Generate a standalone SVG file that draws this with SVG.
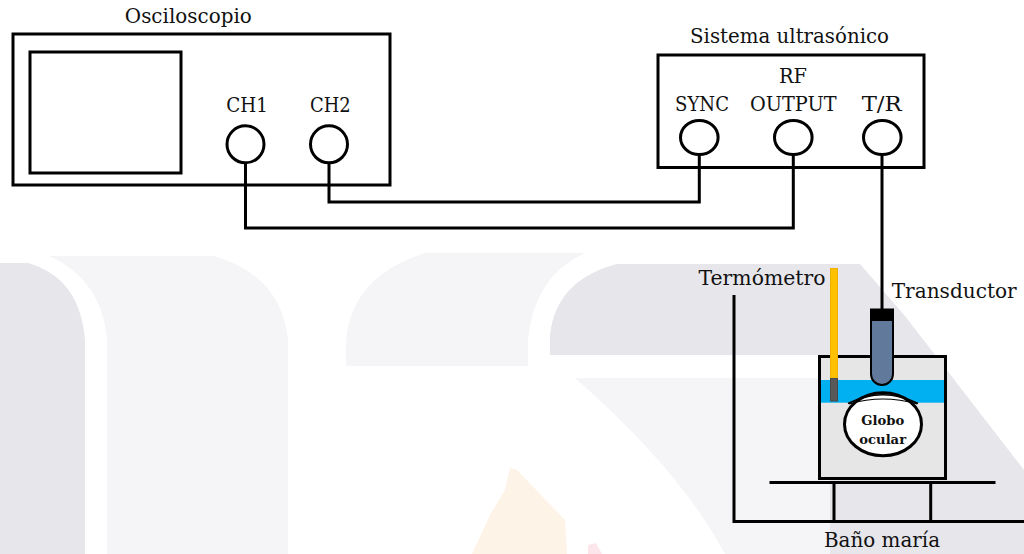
<svg xmlns="http://www.w3.org/2000/svg" width="1024" height="554" viewBox="0 0 1024 554">
  <style>
    .lbl { font-family: "DejaVu Serif", "Liberation Serif", serif; font-size: 20px; fill: #111; text-anchor: middle; }
    .bold { font-family: "DejaVu Serif", "Liberation Serif", serif; font-size: 13.5px; font-weight: bold; fill: #111; text-anchor: middle; }
    .box { fill: none; stroke: #000; stroke-width: 3; }
    .jack { fill: #fff; stroke: #000; stroke-width: 3; }
    .wire { fill: none; stroke: #000; stroke-width: 3; stroke-linejoin: miter; }
    .wm-dark { fill: #E6E6EB; }
    .wm-light { fill: #F5F5F7; }
  </style>

  <rect x="0" y="0" width="1024" height="554" fill="#fff"/>

  <!-- faint background emblem -->
  <g id="emblem">
    <path class="wm-dark" d="M0,263 L28,263 Q80,278 85,340 L85,554 L0,554 Z"/>
    <path class="wm-light" d="M49,256 L214,256 Q282,276 288,340 L288,554 L107,554 L107,340 Q102,280 49,256 Z"/>
    <path class="wm-light" d="M425,253 L585,253 Q534,276 528,340 L528,366 L346,366 L346,340 Q352,276 425,253 Z"/>
    <path class="wm-dark" d="M617,264 L860,264 L905,316 L935,355 L550,355 L550,335 Q556,280 617,264 Z"/>
    <path class="wm-dark" d="M905,316 L1024,470 L1024,554 L830,554 L830,355 L935,355 Z"/>
    <path class="wm-light" d="M575,378 L830,378 L830,554 L725,554 Q680,470 575,378 Z"/>
    <path fill="#FEF3E7" d="M510,468 L517,470 L565,520 L567,554 L472,554 L490,515 L505,490 Z"/>
    <path fill="#FCE6EC" d="M588,545 L596,543 L602,554 L588,554 Z"/>
  </g>

  <!-- connecting cables -->
  <g id="connectors">
    <polyline class="wire" points="245.5,163 245.5,228 793.3,228 793.3,155"/>
    <polyline class="wire" points="329,163 329,202 699.3,202 699.3,155"/>
    <line class="wire" x1="882" y1="155" x2="882" y2="309"/>
  </g>

  <!-- oscilloscope -->
  <g id="osciloscopio">
    <rect class="box" x="13" y="34" width="377" height="151"/>
    <rect class="box" x="30" y="52" width="151" height="121"/>
    <circle class="jack" cx="245.5" cy="144.3" r="18.5"/>
    <circle class="jack" cx="329" cy="144.3" r="18.5"/>
    <text class="lbl" x="188.3" y="23" textLength="127" lengthAdjust="spacingAndGlyphs">Osciloscopio</text>
    <text class="lbl" x="247" y="111.7" textLength="41.7" lengthAdjust="spacingAndGlyphs">CH1</text>
    <text class="lbl" x="330.3" y="111.7" textLength="40.7" lengthAdjust="spacingAndGlyphs">CH2</text>
  </g>

  <!-- ultrasound system -->
  <g id="sistema">
    <rect class="box" x="658" y="55" width="266" height="112.5"/>
    <ellipse class="jack" cx="699.3" cy="137.5" rx="18.8" ry="17"/>
    <ellipse class="jack" cx="793.3" cy="137.5" rx="18.8" ry="17"/>
    <ellipse class="jack" cx="882.3" cy="137.5" rx="18.8" ry="17"/>
    <text class="lbl" x="789.5" y="42.7" textLength="199" lengthAdjust="spacingAndGlyphs">Sistema ultrasónico</text>
    <text class="lbl" x="793" y="82.7" textLength="28" lengthAdjust="spacingAndGlyphs">RF</text>
    <text class="lbl" x="702" y="110.7" textLength="54" lengthAdjust="spacingAndGlyphs">SYNC</text>
    <text class="lbl" x="793.3" y="110.7" textLength="86.7" lengthAdjust="spacingAndGlyphs">OUTPUT</text>
    <text class="lbl" x="881.7" y="110.7" textLength="40" lengthAdjust="spacingAndGlyphs">T/R</text>
  </g>

  <!-- water bath -->
  <g id="bano">
    <polyline class="wire" points="734,295 734,521.5 1024,521.5"/>
    <line class="wire" x1="769.5" y1="482.5" x2="995.5" y2="482.5"/>
    <line class="wire" x1="834" y1="482.5" x2="834" y2="521.5"/>
    <line class="wire" x1="930.7" y1="482.5" x2="930.7" y2="521.5"/>
    <text class="lbl" x="882" y="546.7" textLength="116" lengthAdjust="spacingAndGlyphs">Baño maría</text>
  </g>

  <!-- container with water -->
  <g id="recipiente">
    <rect x="819.5" y="356.5" width="126" height="122" fill="#E6E6E6"/>
    <rect x="821" y="380" width="123" height="22.7" fill="#00B0F0"/>
    <rect class="box" x="819.5" y="356.5" width="126" height="122"/>
  </g>

  <!-- eye -->
  <g id="globo">
    <ellipse cx="883" cy="424.2" rx="38.5" ry="31.5" fill="#fff" stroke="#000" stroke-width="3"/>
    <path d="M848,403.5 Q883,386 918,403.5" fill="none" stroke="#000" stroke-width="1.6"/>
    <path d="M849,404 Q883,394 917,404" fill="none" stroke="#000" stroke-width="1.2"/>
    <text class="bold" x="882.7" y="425" textLength="43" lengthAdjust="spacingAndGlyphs">Globo</text>
    <text class="bold" x="882.7" y="444.3" textLength="46.7" lengthAdjust="spacingAndGlyphs">ocular</text>
  </g>

  <!-- thermometer -->
  <g id="termometro">
    <rect x="830.5" y="268.5" width="7" height="110" fill="#FFC000" stroke="#EFB000" stroke-width="1"/>
    <rect x="830.5" y="378.5" width="7" height="22.5" fill="#595959" stroke="#4a4a4a" stroke-width="1"/>
    <text class="lbl" x="762" y="285" textLength="127" lengthAdjust="spacingAndGlyphs">Termómetro</text>
  </g>

  <!-- transducer -->
  <g id="transductor">
    <path d="M871,320 L871,374 A11,11 0 0 0 893,374 L893,320 Z" fill="#61799B" stroke="#000" stroke-width="2"/>
    <rect x="870" y="308.5" width="24" height="12" fill="#000"/>
    <text class="lbl" x="954.2" y="298.3" textLength="125" lengthAdjust="spacingAndGlyphs">Transductor</text>
  </g>
</svg>
